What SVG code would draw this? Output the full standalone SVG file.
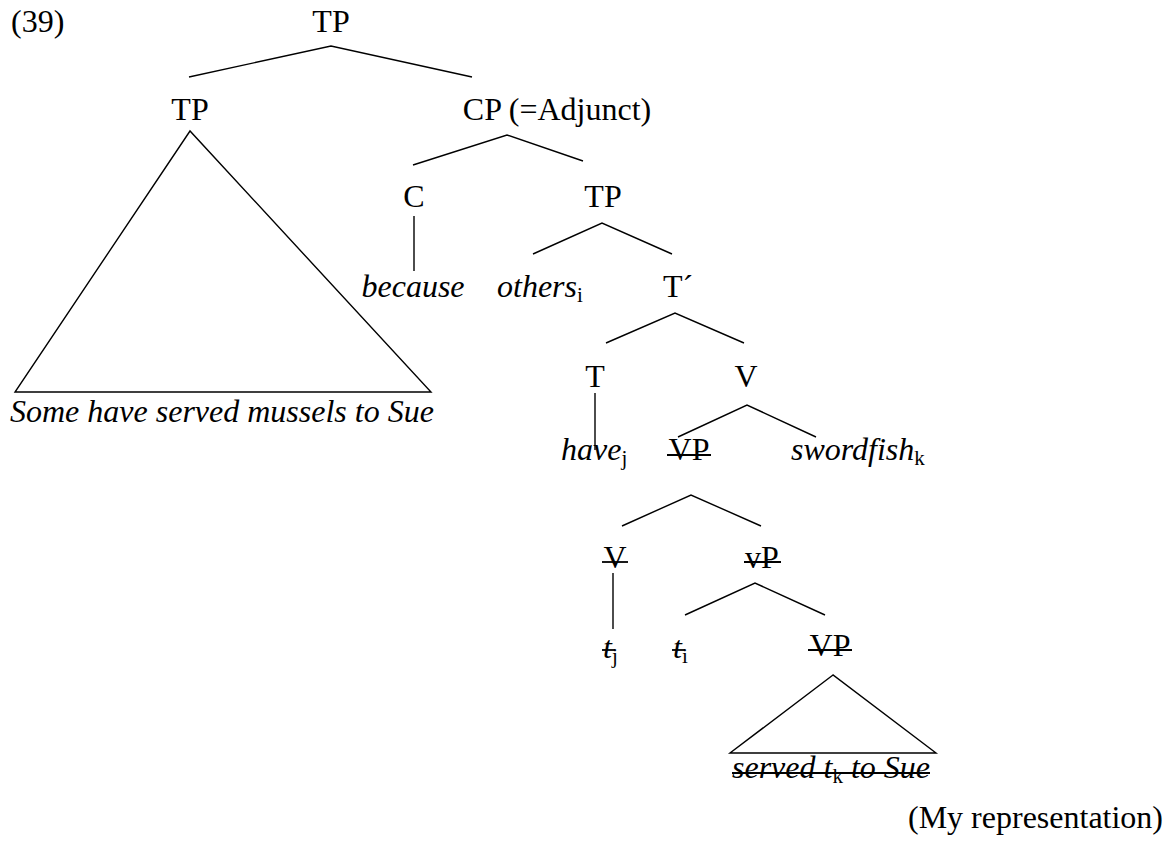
<svg xmlns="http://www.w3.org/2000/svg" width="1173" height="850" viewBox="0 0 1173 850">
<style>
  .lab { font-size: 32px; }
  .mid { text-anchor: middle; }
  .it { font-size: 32px; font-style: italic; }
  .sub { font-size: 21px; font-style: normal; }
  .edge { stroke: #000; stroke-width: 1.4; fill: none; }
  .strike { stroke: #000; stroke-width: 1.8; }
</style>
<rect width="1173" height="850" fill="#fff"/>
<g id="connectors">
  <polyline class="edge" points="189,77 331,46 472,77"/>
  <polyline class="edge" points="413,165 507,135 583,161"/>
  <line class="edge" x1="414" y1="216" x2="414" y2="271"/>
  <polyline class="edge" points="533,254 602,223 672,254"/>
  <polyline class="edge" points="606,343 675,313 744,343"/>
  <line class="edge" x1="595" y1="393" x2="595" y2="450"/>
  <polyline class="edge" points="678,437 747,405 816,437"/>
  <polyline class="edge" points="622,526 691,495 761,526"/>
  <line class="edge" x1="613" y1="573" x2="613" y2="629"/>
  <polyline class="edge" points="685,615 755,583 825,615"/>
  <polygon class="edge" points="190,131 15,392 431,392"/>
  <polygon class="edge" points="833,675 730,753 936,753"/>
</g>
<g font-family="Liberation Serif, Tinos, Times New Roman, DejaVu Serif, serif" fill="#000">
<g id="ex-number"><text class="lab" x="11" y="32">(39)</text></g>
<g id="n-tp-root"><text class="lab mid" x="331" y="32">TP</text></g>
<g id="n-tp-left"><text class="lab mid" x="190" y="120">TP</text></g>
<g id="n-tp-left-yield"><text class="it" x="10" y="422">Some have served mussels to Sue</text></g>
<g id="n-cp"><text class="lab mid" x="557" y="120">CP (=Adjunct)</text></g>
<g id="n-c"><text class="lab mid" x="414" y="207">C</text></g>
<g id="n-because"><text class="it mid" x="413" y="297">because</text></g>
<g id="n-tp2"><text class="lab mid" x="603" y="207">TP</text></g>
<g id="n-others"><text class="it" x="497" y="297">others<tspan class="sub" dy="5">i</tspan></text></g>
<g id="n-tbar"><text class="lab" x="663" y="297">T´</text></g>
<g id="n-t"><text class="lab mid" x="595" y="387">T</text></g>
<g id="n-v"><text class="lab mid" x="746" y="387">V</text></g>
<g id="n-have"><text class="it" x="561" y="460">have<tspan class="sub" dy="5">j</tspan></text></g>
<g id="n-vp1"><text class="lab mid" x="689" y="460">VP</text><line class="strike" x1="667" y1="455" x2="711" y2="455"/></g>
<g id="n-swordfish"><text class="it" x="791" y="460">swordfish<tspan class="sub" dy="5">k</tspan></text></g>
<g id="n-v2"><text class="lab mid" x="615" y="568">V</text><line class="strike" x1="602" y1="562" x2="628" y2="562"/></g>
<g id="n-vp-small"><text class="lab mid" x="762" y="568">vP</text><line class="strike" x1="744" y1="562" x2="781" y2="562"/></g>
<g id="n-tj"><text class="it" x="603" y="658">t<tspan class="sub" dy="5">j</tspan></text><line class="strike" x1="602" y1="650" x2="615" y2="650"/></g>
<g id="n-ti"><text class="it" x="673" y="658">t<tspan class="sub" dy="5">i</tspan></text><line class="strike" x1="672" y1="650" x2="685" y2="650"/></g>
<g id="n-vp2"><text class="lab mid" x="830" y="656">VP</text><line class="strike" x1="808" y1="650" x2="852" y2="650"/></g>
<g id="n-vp2-yield"><text class="it" x="732" y="778">served t<tspan class="sub" dy="5">k</tspan><tspan dy="-5"> to Sue</tspan></text><line class="strike" x1="732" y1="773" x2="930" y2="773"/></g>
<g id="note"><text class="lab" x="908" y="828">(My representation)</text></g>
</g>
</svg>
